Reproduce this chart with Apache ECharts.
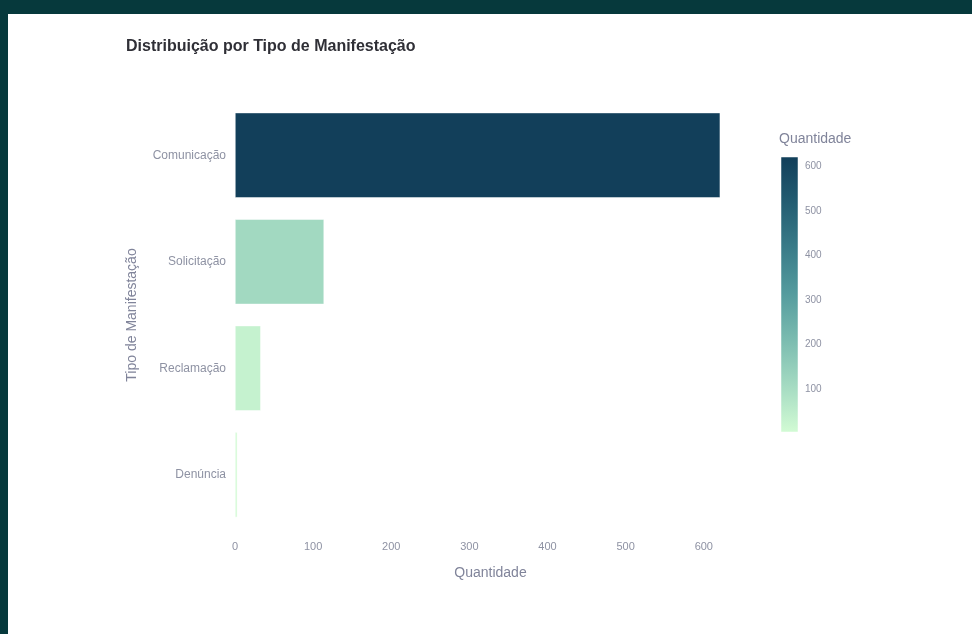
<!DOCTYPE html>
<html lang="pt">
<head>
<meta charset="utf-8">
<title>Distribuição por Tipo de Manifestação</title>
<script src="https://cdn.jsdelivr.net/npm/echarts@6/dist/echarts.min.js"></script>
<style>
  html, body { margin: 0; padding: 0; width: 972px; height: 634px; overflow: hidden; background: #06393c; }
  #chart { position: absolute; left: 8px; top: 14px; width: 964px; height: 620px; background: #ffffff; }
</style>
</head>
<body>
<div id="chart"></div>
<script>
// Manifestation types and how many of each were registered
const categorias = ['Comunicação', 'Solicitação', 'Reclamação', 'Denúncia'];
const quantidades = [621, 114, 33, 3];

// Colour bar tick labels
const ticksEscala = [100, 200, 300, 400, 500, 600];

// Sequential "darkmint" palette, light to dark
const paleta = ['#d2fbd4', '#a5dbc2', '#7bbcb0', '#559c9e', '#3a7c89', '#235d72', '#123f5a'];

const minQ = Math.min(...quantidades);
const maxQ = Math.max(...quantidades);

const FONT = '"Liberation Sans", Arial, sans-serif';
const TICK = '#8e92a3';
const AXIS_TITLE = '#80849a';

const chart = echarts.init(document.getElementById('chart'), null, { renderer: 'canvas' });

const gradiente = new echarts.graphic.LinearGradient(0, 1, 0, 0,
  paleta.map((c, i) => ({ offset: i / (paleta.length - 1), color: c })));

chart.setOption({
  backgroundColor: '#ffffff',
  animation: false,
  textStyle: { fontFamily: FONT },
  title: [
    {
      text: 'Distribuição por Tipo de Manifestação',
      left: 113,
      top: 20,
      textStyle: { fontFamily: FONT, fontSize: 16, fontWeight: 'bold', color: '#2f2f36' }
    },
    {
      // colour bar heading
      text: 'Quantidade',
      left: 766,
      top: 113,
      textStyle: { fontFamily: FONT, fontSize: 14, fontWeight: 'normal', color: AXIS_TITLE }
    }
  ],
  grid: [
    { left: 227, right: 226, top: 88, bottom: 106, containLabel: false },
    { left: 773, width: 17, top: 143, bottom: 202, containLabel: false }
  ],
  xAxis: [
    {
      gridIndex: 0,
      type: 'value',
      min: 0,
      max: 654,
      interval: 100,
      name: 'Quantidade',
      nameLocation: 'middle',
      nameGap: 38,
      nameTextStyle: { fontFamily: FONT, fontSize: 14, color: AXIS_TITLE },
      axisLine: { show: false },
      axisTick: { show: false },
      splitLine: { show: false },
      axisLabel: {
        fontFamily: FONT, fontSize: 11, color: TICK, margin: 13,
        formatter: v => (v % 100 === 0 && v <= 600) ? String(v) : ''
      }
    },
    {
      gridIndex: 1,
      type: 'value',
      min: 0,
      max: 1,
      show: false
    }
  ],
  yAxis: [
    {
      gridIndex: 0,
      type: 'category',
      data: categorias,
      inverse: true,
      name: 'Tipo de Manifestação',
      nameLocation: 'middle',
      nameGap: 96,
      nameRotate: 90,
      nameTextStyle: { fontFamily: FONT, fontSize: 14, color: AXIS_TITLE },
      axisLine: { show: false },
      axisTick: { show: false },
      splitLine: { show: false },
      axisLabel: { fontFamily: FONT, fontSize: 12, color: TICK, margin: 9 }
    },
    {
      gridIndex: 1,
      type: 'value',
      min: minQ,
      max: maxQ,
      position: 'right',
      axisLine: { show: false },
      axisTick: { show: false },
      splitLine: { show: false },
      axisLabel: {
        fontFamily: FONT, fontSize: 10, color: TICK, margin: 7,
        customValues: ticksEscala
      }
    }
  ],
  visualMap: {
    type: 'continuous',
    show: false,
    seriesIndex: 0,
    dimension: 0,
    min: minQ,
    max: maxQ,
    inRange: { color: paleta }
  },
  series: [
    {
      type: 'bar',
      xAxisIndex: 0,
      yAxisIndex: 0,
      barWidth: '80%',
      data: quantidades.map((q, i) => [q, categorias[i]]),
      encode: { x: 0, y: 1 },
      itemStyle: { borderColor: '#ffffff', borderWidth: 0.5 }
    },
    {
      // Colour bar: a single rectangle spanning the data range on its own axis
      type: 'custom',
      xAxisIndex: 1,
      yAxisIndex: 1,
      silent: true,
      data: [[0, 1, minQ, maxQ]],
      renderItem: (params, api) => {
        const p0 = api.coord([api.value(0), api.value(2)]);
        const p1 = api.coord([api.value(1), api.value(3)]);
        return {
          type: 'rect',
          shape: { x: p0[0], y: p1[1], width: p1[0] - p0[0], height: p0[1] - p1[1] },
          style: { fill: gradiente, stroke: '#ffffff', lineWidth: 0.5 }
        };
      }
    }
  ]
});
</script>
</body>
</html>
